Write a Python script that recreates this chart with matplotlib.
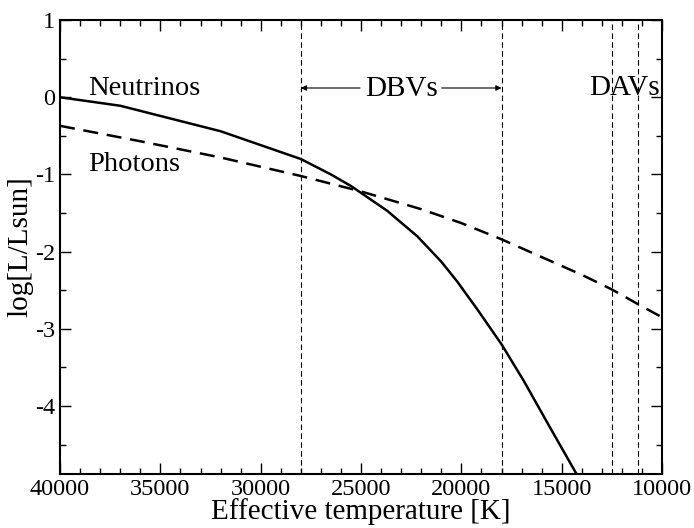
import matplotlib
matplotlib.use("Agg")
import matplotlib.pyplot as plt
from matplotlib.ticker import MultipleLocator

plt.rcParams["font.family"] = ["Liberation Serif", "DejaVu Serif"]
plt.rcParams["axes.unicode_minus"] = False

# Neutrino luminosity vs effective temperature
teff_nu = [40000, 37000, 32000, 28000, 26500, 25500, 23700, 22200, 21000,
           20200, 19200, 18000, 16900, 15600, 14000]
logl_nu = [0.0, -0.11, -0.44, -0.80, -1.00, -1.15, -1.47, -1.80, -2.13,
           -2.39, -2.75, -3.20, -3.67, -4.27, -5.0]

# Photon luminosity vs effective temperature
teff_ph = [40000, 36000, 32000, 28000, 25000, 22000, 20000, 18000, 16000,
           14000, 12500, 11200, 10000]
logl_ph = [-0.37, -0.57, -0.78, -1.02, -1.22, -1.45, -1.63, -1.84, -2.07,
           -2.30, -2.49, -2.68, -2.85]

# instability strip edges
dbv_edges = [28000, 18000]
dav_edges = [12500, 11200]

fig = plt.figure(figsize=(6.94, 5.28), dpi=100)
ax = fig.add_axes([0.0865, 0.1023, 0.8675, 0.8597])

ax.plot(teff_nu, logl_nu, color="black", lw=1.8)
ax.plot(teff_ph, logl_ph, color="black", lw=1.8, dashes=(6, 3.5))

for t in dbv_edges + dav_edges:
    ax.axvline(t, color="black", lw=0.8, dashes=(5, 3))

# DBV arrows
ax.annotate("", xy=(dbv_edges[0], 0.12), xytext=(25050, 0.12),
            arrowprops=dict(arrowstyle="-|>", color="black", lw=0.8,
                            mutation_scale=8, shrinkA=0, shrinkB=0))
ax.annotate("", xy=(dbv_edges[1], 0.12), xytext=(20980, 0.12),
            arrowprops=dict(arrowstyle="-|>", color="black", lw=0.8,
                            mutation_scale=8, shrinkA=0, shrinkB=0))
ax.text(22990, 0.013, "DBVs", fontsize=21, ha="center", va="baseline")
ax.text(13640, 0.035, "DAVs", fontsize=21, ha="left", va="baseline")

ax.text(38600, 0.026, "Neutrinos", fontsize=20.5, ha="left", va="baseline")
ax.text(38600, -0.957, "Photons", fontsize=20.5, ha="left", va="baseline")

ax.set_xlim(40000, 10000)
ax.set_ylim(-4.88, 1)
ax.xaxis.set_major_locator(MultipleLocator(5000))
ax.xaxis.set_minor_locator(MultipleLocator(1000))
ax.yaxis.set_major_locator(MultipleLocator(1))
ax.yaxis.set_minor_locator(MultipleLocator(0.5))
ax.tick_params(which="both", direction="in", top=True, right=True,
               labelsize=17.5, width=1)
ax.tick_params(which="major", length=8)
ax.tick_params(which="minor", length=4)
for s in ax.spines.values():
    s.set_linewidth(1.5)

ax.set_xlabel("Effective temperature [K]", fontsize=21, labelpad=-1)
ax.set_ylabel("log[L/Lsun]", fontsize=21, labelpad=1)

fig.savefig("out.png", dpi=100)
